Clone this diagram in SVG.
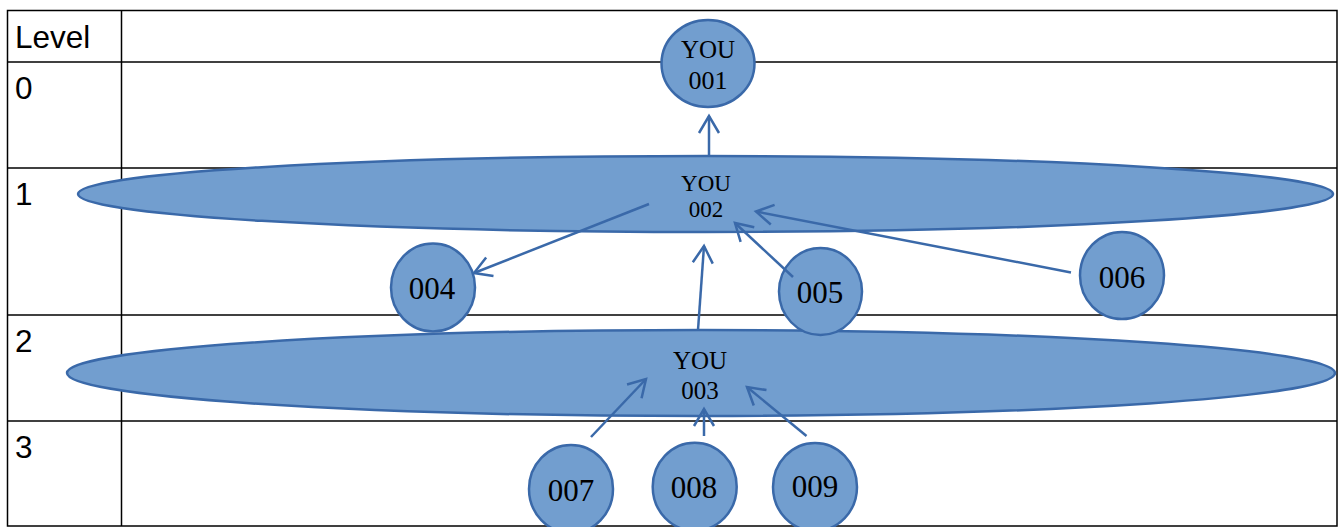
<svg xmlns="http://www.w3.org/2000/svg" width="1338" height="527" viewBox="0 0 1338 527">
<style>
.grid{stroke:#000;stroke-width:1.5;fill:none}
.lvl{font-family:"Liberation Sans",Arial,sans-serif;font-size:31.5px;fill:#000}
.shape{fill:#729ECF;stroke:#3A69A9;stroke-width:2.5}
.lbl{font-family:"Liberation Serif","Times New Roman",serif;fill:#000;text-anchor:middle}
.con{stroke:#3A69A9;stroke-width:2.5;fill:none;marker-end:url(#arr)}
</style>
<defs>
<marker id="arr" markerUnits="userSpaceOnUse" viewBox="-20 -12 22 24" refX="0" refY="0" markerWidth="22" markerHeight="24" orient="auto" overflow="visible">
<path d="M-17,-10 L0,0 L-17,10" fill="none" stroke="#3A69A9" stroke-width="2.5"/>
</marker>
</defs>
<rect width="1338" height="527" fill="#fff"/>
<g id="table">
<rect class="grid" x="7.5" y="10.5" width="1329.5" height="515.5"/>
<line class="grid" x1="121.5" y1="10.5" x2="121.5" y2="526"/>
<line class="grid" x1="7.5" y1="62" x2="1337" y2="62"/>
<line class="grid" x1="7.5" y1="168" x2="1337" y2="168"/>
<line class="grid" x1="7.5" y1="315" x2="1337" y2="315"/>
<line class="grid" x1="7.5" y1="421" x2="1337" y2="421"/>
<text class="lvl" x="15" y="48">Level</text>
<text class="lvl" x="15" y="99">0</text>
<text class="lvl" x="15" y="205">1</text>
<text class="lvl" x="15" y="352">2</text>
<text class="lvl" x="15" y="458">3</text>
</g>
<g id="n002"><ellipse class="shape" cx="705.5" cy="194" rx="627.5" ry="38"/>
<text class="lbl" font-size="23" x="706" y="191">YOU</text><text class="lbl" font-size="23" x="706" y="217">002</text></g>
<g id="n003"><ellipse class="shape" cx="701" cy="373" rx="634" ry="43"/>
<text class="lbl" font-size="25" x="700" y="369">YOU</text><text class="lbl" font-size="25" x="700" y="399">003</text></g>
<g id="n001"><ellipse class="shape" cx="708" cy="63.5" rx="46.5" ry="43.5"/>
<text class="lbl" font-size="25" x="708" y="58">YOU</text><text class="lbl" font-size="26" x="708" y="89">001</text></g>
<g id="n004"><ellipse class="shape" cx="433" cy="287.5" rx="42" ry="44"/><text class="lbl" font-size="31" x="432" y="299">004</text></g>
<g id="n005"><ellipse class="shape" cx="820.5" cy="291.5" rx="41.5" ry="43.5"/><text class="lbl" font-size="31" x="820" y="303">005</text></g>
<g id="n006"><ellipse class="shape" cx="1122" cy="275.5" rx="42" ry="43.5"/><text class="lbl" font-size="31" x="1122" y="288">006</text></g>
<g id="n007"><ellipse class="shape" cx="571" cy="489" rx="42" ry="44"/><text class="lbl" font-size="31" x="571" y="501">007</text></g>
<g id="n008"><ellipse class="shape" cx="694.7" cy="486.7" rx="42" ry="44"/><text class="lbl" font-size="31" x="694" y="498">008</text></g>
<g id="n009"><ellipse class="shape" cx="815" cy="487" rx="42" ry="44"/><text class="lbl" font-size="31" x="815" y="497">009</text></g>
<g id="connectors">
<line class="con" x1="709" y1="155.5" x2="709" y2="116"/>
<line class="con" x1="649" y1="204" x2="474" y2="273"/>
<line class="con" x1="698" y1="330" x2="704" y2="246"/>
<line class="con" x1="793" y1="277" x2="735" y2="223"/>
<line class="con" x1="1071" y1="272.5" x2="756" y2="211.5"/>
<line class="con" x1="591" y1="437" x2="646" y2="379"/>
<line class="con" x1="704" y1="436" x2="704" y2="409"/>
<line class="con" x1="806.5" y1="436" x2="747" y2="387"/>
</g>
</svg>
